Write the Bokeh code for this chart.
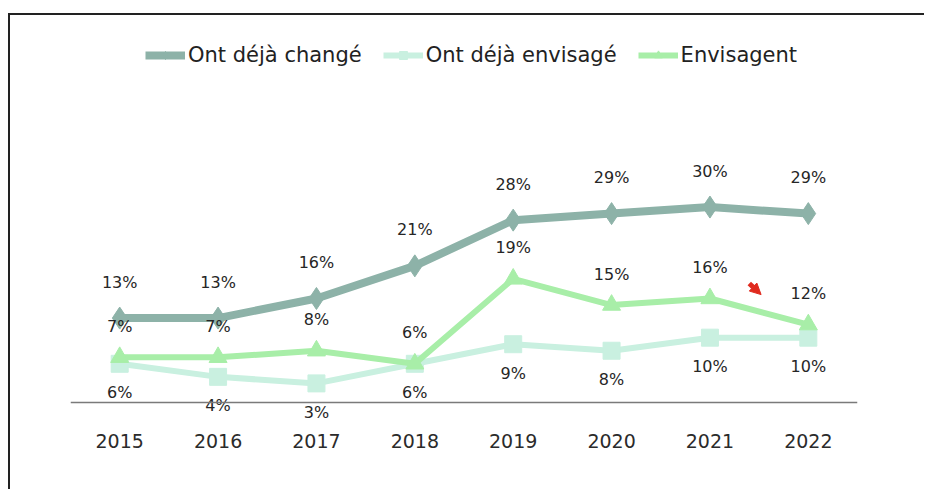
from bokeh.plotting import figure
from bokeh.models import ColumnDataSource, FixedTicker, Legend, LegendItem, Arrow, NormalHead
from bokeh.core.properties import value
from bokeh.embed import file_html
from bokeh.resources import INLINE

years = [2015, 2016, 2017, 2018, 2019, 2020, 2021, 2022]
year_labels = ["2015", "2016", "2017", "2018", "2019", "2020", "2021", "2022"]
ont_deja_change = [13, 13, 16, 21, 28, 29, 30, 29]
ont_deja_envisage = [6, 4, 3, 6, 9, 8, 10, 10]
envisagent = [7, 7, 8, 6, 19, 15, 16, 12]
series_names = ["Ont déjà changé", "Ont déjà envisagé", "Envisagent"]

FONT = "DejaVu Sans"
C_CHANGE = "#8db2a8"
C_ENVISAGE = "#c9f0e0"
C_ENVISAGENT = "#a8eea8"

p = figure(width=916, height=476, x_range=(2014.5, 2022.5), y_range=(-10.34, 57.04),
           output_backend="svg", toolbar_location=None,
           min_border_left=60, min_border_right=69, min_border_top=15, min_border_bottom=21)
p.styles = {"border-left": "2px solid #222", "border-top": "2px solid #222",
            "margin-top": "13px", "margin-left": "8px"}
p.outline_line_color = None
p.background_fill_color = "white"
p.xgrid.visible = False
p.ygrid.visible = False
p.yaxis.visible = False

p.xaxis.fixed_location = 0
p.xaxis.ticker = FixedTicker(ticks=years)
p.xaxis.major_label_overrides = {y: l for y, l in zip(years, year_labels)}
p.xaxis.axis_line_color = "#7a7a7a"
p.xaxis.axis_line_width = 1.5
p.xaxis.major_tick_line_color = None
p.xaxis.minor_tick_line_color = None
p.xaxis.major_label_standoff = 25
p.xaxis.major_label_text_font = FONT
p.xaxis.major_label_text_font_size = "19px"
p.xaxis.major_label_text_color = "#2b2b2b"

def lbl(vals):
    return [f"{v}%" for v in vals]

src_c = ColumnDataSource(dict(x=years, y=ont_deja_change, t=lbl(ont_deja_change)))
src_e = ColumnDataSource(dict(x=years, y=ont_deja_envisage, t=lbl(ont_deja_envisage)))
src_g = ColumnDataSource(dict(x=years, y=envisagent, t=lbl(envisagent)))

# Ont déjà envisagé (drawn first, underneath)
l_e = p.line("x", "y", source=src_e, line_color=C_ENVISAGE, line_width=6)
m_e = p.scatter("x", "y", source=src_e, marker="square", size=17, fill_color=C_ENVISAGE, line_color=C_ENVISAGE)
# Envisagent
l_g = p.line("x", "y", source=src_g, line_color=C_ENVISAGENT, line_width=6)
m_g = p.scatter("x", "y", source=src_g, marker="triangle", size=18, fill_color=C_ENVISAGENT, line_color=C_ENVISAGENT)
# Ont déjà changé
l_c = p.line("x", "y", source=src_c, line_color=C_CHANGE, line_width=8)
m_c = p.scatter("x", "y", source=src_c, marker="diamond", size=22, fill_color=C_CHANGE, line_color=C_CHANGE)

common = dict(text_font=value(FONT), text_font_size="16px", text_color="#262626",
              text_align="center", text_baseline="middle")
p.text("x", "y", text="t", source=src_c, y_offset=-36, **common)
p.text("x", "y", text="t", source=src_g, y_offset=-31, **common)
p.text("x", "y", text="t", source=src_e, y_offset=29, **common)

# small red arrow showing the decline between 2021 and 2022
xa = (years[6] + years[7]) / 2
p.add_layout(Arrow(end=NormalHead(size=11, fill_color="#e02a1e", line_color="#e02a1e"),
                   x_start=xa - 0.1, y_start=envisagent[6] + 2.3,
                   x_end=xa + 0.02, y_end=envisagent[6] + 0.6,
                   line_color="#e02a1e", line_width=5))

legend = Legend(items=[
    LegendItem(label=series_names[0], renderers=[l_c, m_c]),
    LegendItem(label=series_names[1], renderers=[l_e, m_e]),
    LegendItem(label=series_names[2], renderers=[l_g, m_g]),
], orientation="horizontal", location=(75, 403))
legend.label_text_font = FONT
legend.label_text_font_size = "21px"
legend.label_text_color = "#222222"
legend.glyph_width = 40
legend.glyph_height = 20
legend.label_standoff = 3
legend.spacing = 21
legend.padding = 0
legend.margin = 0
legend.border_line_color = None
legend.background_fill_alpha = 0
p.add_layout(legend, "center")

open("out.html", "w").write(file_html(p, INLINE))
